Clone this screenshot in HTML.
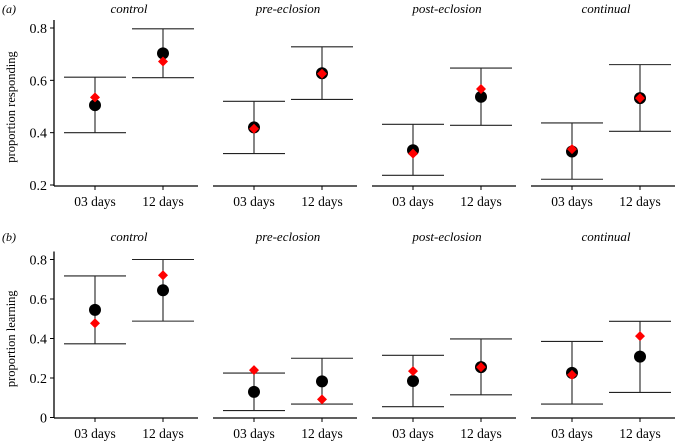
<!DOCTYPE html>
<html><head><meta charset="utf-8"><style>
html,body{margin:0;padding:0;background:#fff;}
svg{display:block;font-family:"Liberation Serif",serif;}
</style></head><body>
<svg id="chart" width="683" height="444"></svg>
<script>
const panels = ["control","pre-eclosion","post-eclosion","continual"];
const categories = ["03 days","12 days"];
// row a: proportion responding
const respMean = [[0.505,0.703],[0.42,0.627],[0.333,0.537],[0.328,0.532]];
const respRed  = [[0.535,0.672],[0.415,0.625],[0.32,0.567],[0.337,0.532]];
const respLo   = [[0.40,0.61],[0.32,0.527],[0.237,0.428],[0.222,0.405]];
const respHi   = [[0.612,0.797],[0.52,0.728],[0.432,0.647],[0.437,0.66]];
// row b: proportion learning
const learnMean = [[0.545,0.644],[0.13,0.183],[0.185,0.255],[0.226,0.308]];
const learnRed  = [[0.477,0.72],[0.24,0.092],[0.235,0.255],[0.216,0.412]];
const learnLo   = [[0.373,0.488],[0.035,0.068],[0.055,0.115],[0.068,0.127]];
const learnHi   = [[0.717,0.80],[0.225,0.30],[0.315,0.398],[0.385,0.487]];
const respTicks = [0.2,0.4,0.6,0.8];
const respTickLabels = ["0.2","0.4","0.6","0.8"];
const learnTicks = [0,0.2,0.4,0.6,0.8];
const learnTickLabels = ["0","0.2","0.4","0.6","0.8"];

const svg = document.getElementById('chart');
const NS = "http://www.w3.org/2000/svg";
function mk(tag, attrs, parent){const e=document.createElementNS(NS,tag);for(const k in attrs)e.setAttribute(k,attrs[k]);(parent||svg).appendChild(e);return e;}

const panelX0 = [54,213,372,531], panelW = 144, catOff = [41,109];
function xPos(p,c){return panelX0[p]+catOff[c];}

function drawRow(cfg){
  const y = v => cfg.y0 + (v - cfg.v0) * (cfg.y1 - cfg.y0) / (cfg.v1 - cfg.v0);
  const g = mk('g',{});
  
  
  let t = mk('text',{x:2,y:cfg.labY,'font-size':12,'font-style':'italic'},g); t.textContent=cfg.tag;
   
  // y axis title
  t = mk('text',{x:0,y:0,'font-size':12.5,'text-anchor':'middle',transform:`translate(15,${(y(cfg.v1)+cfg.axisY)/2}) rotate(-90)`},g);
  t.textContent = cfg.ytitle;
   
  const ax = mk('line',{x1:54,x2:54,y1:y(cfg.v1)-8,y2:cfg.axisY,stroke:'#000','stroke-width':1.3},g);
   
  cfg.ticks.forEach((v,i)=>{
    mk('line',{x1:50,x2:54,y1:y(v),y2:y(v),stroke:'#000','stroke-width':1},g);
    const tl = mk('text',{x:47,y:y(v)+5,'font-size':14,'text-anchor':'end'},g); tl.textContent=cfg.tickLabels[i];
     
  });
  panels.forEach((pn,p)=>{
    const ttl = mk('text',{x:panelX0[p]+75,y:cfg.labY,'font-size':13,'font-style':'italic','text-anchor':'middle'},g);
    ttl.textContent = pn;
     
    const xl = mk('line',{x1:panelX0[p],x2:panelX0[p]+panelW,y1:cfg.axisY,y2:cfg.axisY,stroke:'#000','stroke-width':1.3},g);
     
    categories.forEach((c,ci)=>{
      const x = xPos(p,ci);
      mk('line',{x1:x,x2:x,y1:cfg.axisY,y2:cfg.axisY+4,stroke:'#000','stroke-width':1},g);
      const cl = mk('text',{x:x,y:cfg.axisY+20,'font-size':13.5,'text-anchor':'middle'},g); cl.textContent=c;
       
      const lo=y(cfg.lo[p][ci]), hi=y(cfg.hi[p][ci]);
      const eb = mk('path',{d:`M${x-31},${hi}H${x+31}M${x},${hi}V${lo}M${x-31},${lo}H${x+31}`,stroke:'#222','stroke-width':1.1,fill:'none'},g);
       
      const pt = mk('circle',{cx:x,cy:y(cfg.mean[p][ci]),r:6,fill:'#000'},g);
       
      const ry=y(cfg.red[p][ci]);
      const d = mk('path',{d:`M${x},${ry-5}L${x+5},${ry}L${x},${ry+5}L${x-5},${ry}Z`,fill:'#f00'},g);
       
    });
  });
}
drawRow({name:'panel-a',tag:'(a)',ytitle:'proportion responding',v0:0.2,v1:0.8,y0:185,y1:28,axisY:186,labY:13,
  ticks:respTicks,tickLabels:respTickLabels,mean:respMean,red:respRed,lo:respLo,hi:respHi});
drawRow({name:'panel-b',tag:'(b)',ytitle:'proportion learning',v0:0,v1:0.8,y0:417.5,y1:259.5,axisY:418,labY:241,
  ticks:learnTicks,tickLabels:learnTickLabels,mean:learnMean,red:learnRed,lo:learnLo,hi:learnHi});
</script>
</body></html>
